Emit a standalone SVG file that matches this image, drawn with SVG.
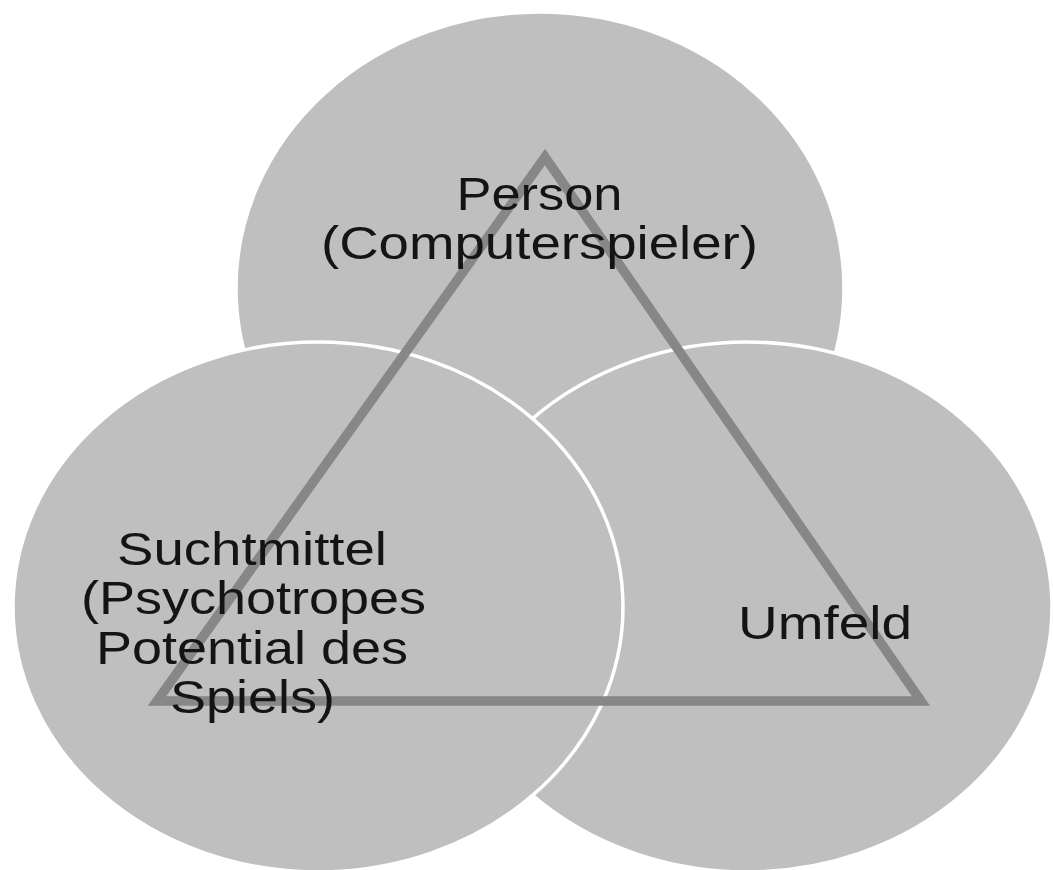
<svg xmlns="http://www.w3.org/2000/svg" width="1053" height="870" viewBox="0 0 1053 870">
  <style>
    .circle { fill: #bfbfbf; stroke: #ffffff; stroke-width: 3.5; }
    .tri { fill: none; stroke: #878787; stroke-width: 9.5; stroke-linejoin: miter; }
    .lbl { font-family: "Liberation Sans", Arial, sans-serif; font-size: 46px; fill: #141414; text-anchor: middle; }
  </style>
  <rect x="0" y="0" width="1053" height="870" fill="#ffffff"/>
  <g id="node-person-circle">
    <ellipse class="circle" cx="540" cy="288" rx="304" ry="276"/>
  </g>
  <g id="node-umfeld-circle">
    <ellipse class="circle" cx="747" cy="607" rx="305" ry="265"/>
  </g>
  <g id="node-suchtmittel-circle">
    <ellipse class="circle" cx="318" cy="607" rx="305" ry="265"/>
  </g>
  <g id="connectors">
    <polygon class="tri" points="545,157 157,701 921,701"/>
  </g>
  <g id="node-person">
    <text class="lbl" x="539.5" y="210" textLength="166" lengthAdjust="spacingAndGlyphs">Person</text>
    <text class="lbl" x="539.5" y="259" textLength="437" lengthAdjust="spacingAndGlyphs">(Computerspieler)</text>
  </g>
  <g id="node-suchtmittel">
    <text class="lbl" x="252" y="565" textLength="270" lengthAdjust="spacingAndGlyphs">Suchtmittel</text>
    <text class="lbl" x="253.5" y="614" textLength="345" lengthAdjust="spacingAndGlyphs">(Psychotropes</text>
    <text class="lbl" x="252" y="664" textLength="312" lengthAdjust="spacingAndGlyphs">Potential des</text>
    <text class="lbl" x="252.5" y="713" textLength="165" lengthAdjust="spacingAndGlyphs">Spiels)</text>
  </g>
  <g id="node-umfeld">
    <text class="lbl" x="825" y="639" textLength="174" lengthAdjust="spacingAndGlyphs">Umfeld</text>
  </g>
</svg>
